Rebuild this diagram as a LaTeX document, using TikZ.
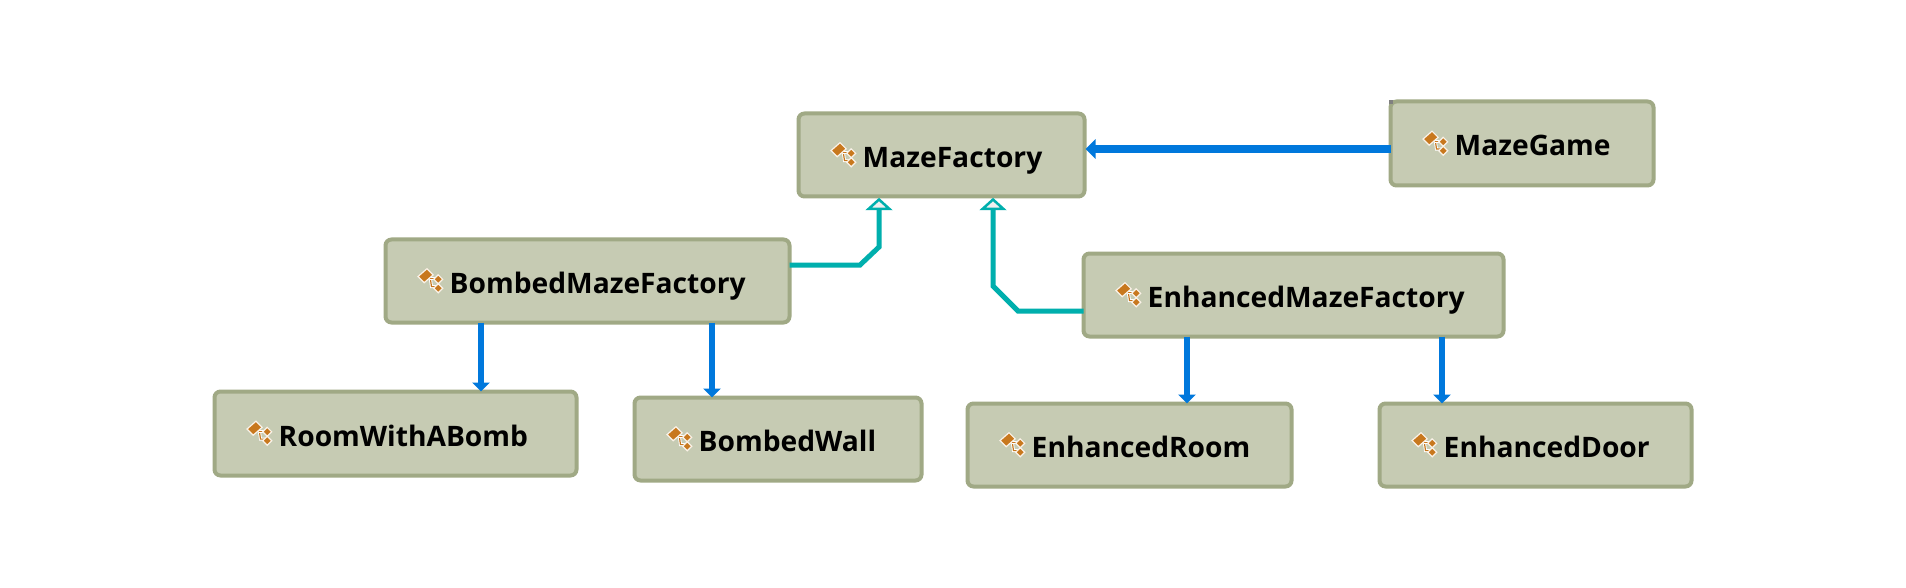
\documentclass[tikz,border=0pt]{standalone}
\usepackage{fontspec}
\setmainfont{Open Sans}
\usetikzlibrary{arrows.meta,calc}
\definecolor{boxfill}{HTML}{C6CBB3}
\definecolor{boxedge}{HTML}{A0A985}
\definecolor{assoc}{HTML}{0078DC}
\definecolor{gen}{HTML}{00AFAD}
\definecolor{iconc}{HTML}{C8781E}
\tikzset{
  x=1pt,y=-1pt,
  umlbox/.style={draw=boxedge,fill=boxfill,line width=4pt,rounded corners=6pt,inner sep=0pt,outer sep=0pt},
  umllabel/.style={anchor=base west,inner sep=0pt,font=\fontsize{28.2}{28.2}\selectfont\bfseries,text=black},
  assocline/.style={draw=assoc,line width=5.5pt,-{Triangle[length=9pt,width=17pt,color=assoc]}},
  assocthick/.style={draw=assoc,line width=8pt,-{Triangle[length=10pt,width=19pt,color=assoc]}},
  genline/.style={draw=gen,line width=5pt},
  genhead/.style={draw=gen,fill=black!6,line width=2.5pt,line join=miter},
  iconpart/.style={fill=iconc,draw=white!90!iconc,line width=1.2pt},
  classicon/.pic={
    \draw[draw=white,line width=3pt] (-1,-2) -- (0,5) -- (4,5);
    \draw[draw=iconc,line width=1.2pt] (-1,-2) -- (0,5) -- (4,5);
    \draw[draw=white,line width=3pt] (-1,-2) -- (4,-2);
    \draw[draw=iconc,line width=1.2pt] (-1,-2) -- (4,-2);
    \path[iconpart] (-12,-4) -- (-4,-11) -- (1.5,-5.5) -- (-6.5,1.5) -- cycle;
    \path[iconpart] (6,-5.5) -- (10,-1.5) -- (6,2.5) -- (2,-1.5) -- cycle;
    \path[iconpart] (6,2.5) -- (10,6.5) -- (6,10.5) -- (2,6.5) -- cycle;
  }
}
\newcommand{\umlnode}[6]{%
  \node[umlbox,minimum width=#4-#2-3,minimum height=#5-#3-3] (#1) at ({(#2+#4)/2},{(#3+#5)/2}) {};
  \pic[scale=1.12] at ($(#1.west)+(46,0)$) {classicon};
  \node[umllabel] (#1-label) at ($(#1.west)+(64,12.5)$) {#6};
}
\begin{document}
\begin{tikzpicture}
\useasboundingbox (0,0) rectangle (1906,588);
\fill[white] (0,0) rectangle (1906,588);
\umlnode{mf}{797}{112}{1086}{198}{MazeFactory}
\umlnode{mg}{1389}{100}{1655}{187}{MazeGame}
\umlnode{bmf}{384}{238}{791}{324}{BombedMazeFactory}
\umlnode{emf}{1082}{252}{1505}{338}{EnhancedMazeFactory}
\umlnode{rb}{213}{390}{578}{477}{RoomWithABomb}
\umlnode{bw}{633}{396}{923}{482}{BombedWall}
\umlnode{er}{966}{402}{1293}{488}{EnhancedRoom}
\umlnode{ed}{1378}{402}{1693}{488}{EnhancedDoor}
\fill[gray] (1389,100) rectangle (1393,104);
% associations
\draw[assocthick] (mg.west |- 0,149) -- ($(mf.east |- 0,149)+(1,0)$);
\draw[assocline] (bmf.south -| 481,0) -- (rb.north -| 481,0);
\draw[assocline] (bmf.south -| 712,0) -- (bw.north -| 712,0);
\draw[assocline] (emf.south -| 1187,0) -- (er.north -| 1187,0);
\draw[assocline] (emf.south -| 1442,0) -- (ed.north -| 1442,0);
% generalisations
\coordinate (gl) at (mf.south -| 879,0);
\coordinate (gr) at (mf.south -| 993,0);
\draw[genline] (bmf.east |- 0,265) -- (860,265) -- (879,247) -- ($(gl)+(0,9)$);
\draw[genline] (emf.west |- 0,311) -- (1018,311) -- (993,286) -- ($(gr)+(0,9)$);
\draw[genhead] ($(gl)+(0,3)$) -- ($(gl)+(10.5,12.5)$) -- ($(gl)+(-10.5,12.5)$) -- cycle;
\draw[genhead] ($(gr)+(0,3)$) -- ($(gr)+(10.5,12.5)$) -- ($(gr)+(-10.5,12.5)$) -- cycle;
\end{tikzpicture}
\end{document}
